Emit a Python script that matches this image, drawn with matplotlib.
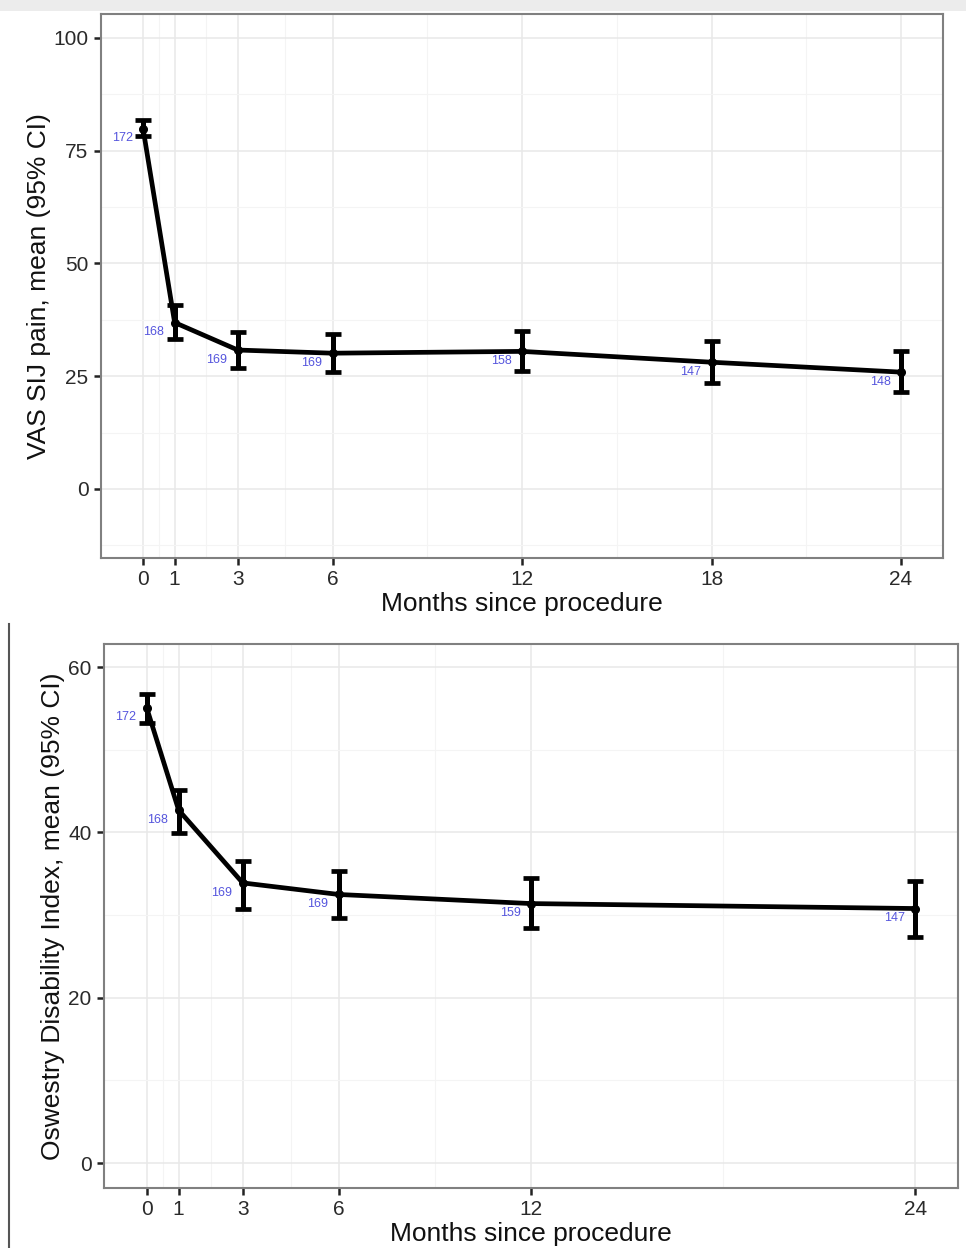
import numpy as np
import matplotlib
matplotlib.use("Agg")
import matplotlib.pyplot as plt
from matplotlib.patches import Rectangle
from matplotlib.lines import Line2D

plt.rcParams['font.family'] = ['Liberation Sans', 'DejaVu Sans']

# VAS SIJ pain
vas_months = [0, 1, 3, 6, 12, 18, 24]
vas_mean = [79.9, 36.9, 30.8, 30.1, 30.5, 28.1, 25.9]
vas_lo = [78.3, 33.2, 26.8, 25.9, 26.1, 23.4, 21.5]
vas_hi = [81.9, 40.7, 34.7, 34.3, 35.0, 32.7, 30.5]
vas_n = ['172', '168', '169', '169', '158', '147', '148']
vas_xticks = [0, 1, 3, 6, 12, 18, 24]
vas_yticks = [0, 25, 50, 75, 100]

# Oswestry Disability Index
odi_months = [0, 1, 3, 6, 12, 24]
odi_mean = [55.1, 42.7, 33.9, 32.5, 31.4, 30.8]
odi_lo = [53.3, 39.9, 30.8, 29.7, 28.4, 27.4]
odi_hi = [56.8, 45.1, 36.6, 35.3, 34.5, 34.1]
odi_n = ['172', '168', '169', '169', '159', '147']
odi_xticks = [0, 1, 3, 6, 12, 24]
odi_yticks = [0, 20, 40, 60]

fig = plt.figure(figsize=(9.66, 12.48), dpi=100)

# screenshot-like edges
fig.patches.append(Rectangle((0, 0.991), 1, 0.009, transform=fig.transFigure,
                             facecolor='#ececec', edgecolor='none', zorder=0))
fig.lines.append(Line2D([0.009, 0.009], [0, 0.50], transform=fig.transFigure,
                        color='#555555', lw=1.5))


def panel(ax, x, m, lo, hi, n, xticks, yticks, ylim, ylabel):
    x = np.array(x)
    m = np.array(m)
    err = [m - np.array(lo), np.array(hi) - m]
    # grid: major at breaks, minor at midpoints
    xminor = [(a + b) / 2 for a, b in zip(xticks[:-1], xticks[1:])]
    ystep = yticks[1] - yticks[0]
    yminor = [t + ystep / 2 for t in [yticks[0] - ystep] + yticks]
    ax.set_xticks(xticks)
    ax.set_yticks(yticks)
    ax.set_xticks(xminor, minor=True)
    ax.set_yticks(yminor, minor=True)
    ax.grid(which='major', color='#e8e8e8', lw=1.1)
    ax.grid(which='minor', color='#f4f4f4', lw=0.8)
    ax.set_axisbelow(True)
    ax.tick_params(which='minor', length=0)
    ax.tick_params(which='major', length=5, width=1.8, color='#222222',
                   labelsize=15, labelcolor='#2a2a2a', pad=4)
    for s in ax.spines.values():
        s.set_color('#808080')
        s.set_linewidth(1.5)
    ax.errorbar(x, m, yerr=err, fmt='none', ecolor='black', elinewidth=3.6,
                capsize=5.5, capthick=3.4, zorder=3)
    ax.plot(x, m, color='black', lw=3.4, marker='o', ms=5.5, zorder=4)
    for xi, yi, t in zip(x, m, n):
        ax.annotate(t, (xi, yi), xytext=(-7.5, -7), textcoords='offset points',
                    ha='right', va='center', fontsize=9, color='#5555dd')
    ax.set_xlabel('Months since procedure', fontsize=19, color='#111111')
    ax.set_ylabel(ylabel, fontsize=19, color='#111111')
    ax.set_xlim(-1.33, 25.33)
    ax.set_ylim(*ylim)


ax1 = fig.add_axes([0.1046, 0.5529, 0.8716, 0.4359])
panel(ax1, vas_months, vas_mean, vas_lo, vas_hi, vas_n, vas_xticks, vas_yticks,
      (-15.3, 105.3), 'VAS SIJ pain, mean (95% CI)')
ax1.xaxis.labelpad = 2
ax1.yaxis.labelpad = 2

ax2 = fig.add_axes([0.1077, 0.0481, 0.884, 0.4359])
panel(ax2, odi_months, odi_mean, odi_lo, odi_hi, odi_n, odi_xticks, odi_yticks,
      (-3.0, 62.8), 'Oswestry Disability Index, mean (95% CI)')
ax2.xaxis.labelpad = 2
ax2.yaxis.labelpad = 2

fig.savefig('out.png', dpi=100)
